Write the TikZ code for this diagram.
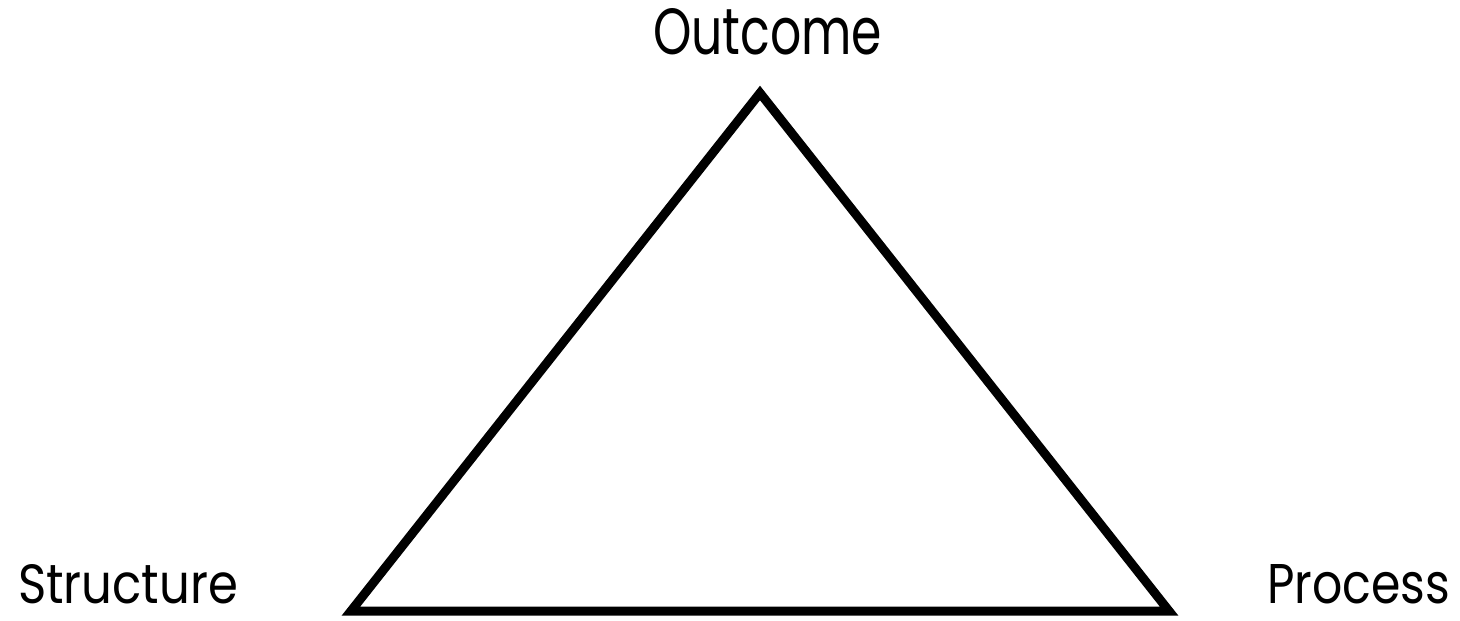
\documentclass[tikz,border=0pt]{standalone}
\usepackage{fontspec}
\setmainfont{Poppins}
\usepackage{graphicx}
\begin{document}
\begin{tikzpicture}[x=1pt,y=-1pt,
  lbl/.style={inner sep=0pt,outer sep=0pt,text=black},
  tri/.style={draw=black,line width=9pt,line join=miter}]
\useasboundingbox[fill=white] (0,0) rectangle (1460,621);
\coordinate (top) at (760,93);
\coordinate (bl) at (351,611);
\coordinate (br) at (1169,611);
\draw[tri] (top) -- (br) -- (bl) -- cycle;
\node[lbl,anchor=south west] (outcome) at (653,55) {\resizebox{229pt}{46pt}{Outcome}};
\node[lbl,anchor=south west] (structure) at (18,604) {\resizebox{220pt}{39pt}{Structure}};
\node[lbl,anchor=south west] (process) at (1267,604) {\resizebox{183pt}{39pt}{Process}};
\end{tikzpicture}
\end{document}
